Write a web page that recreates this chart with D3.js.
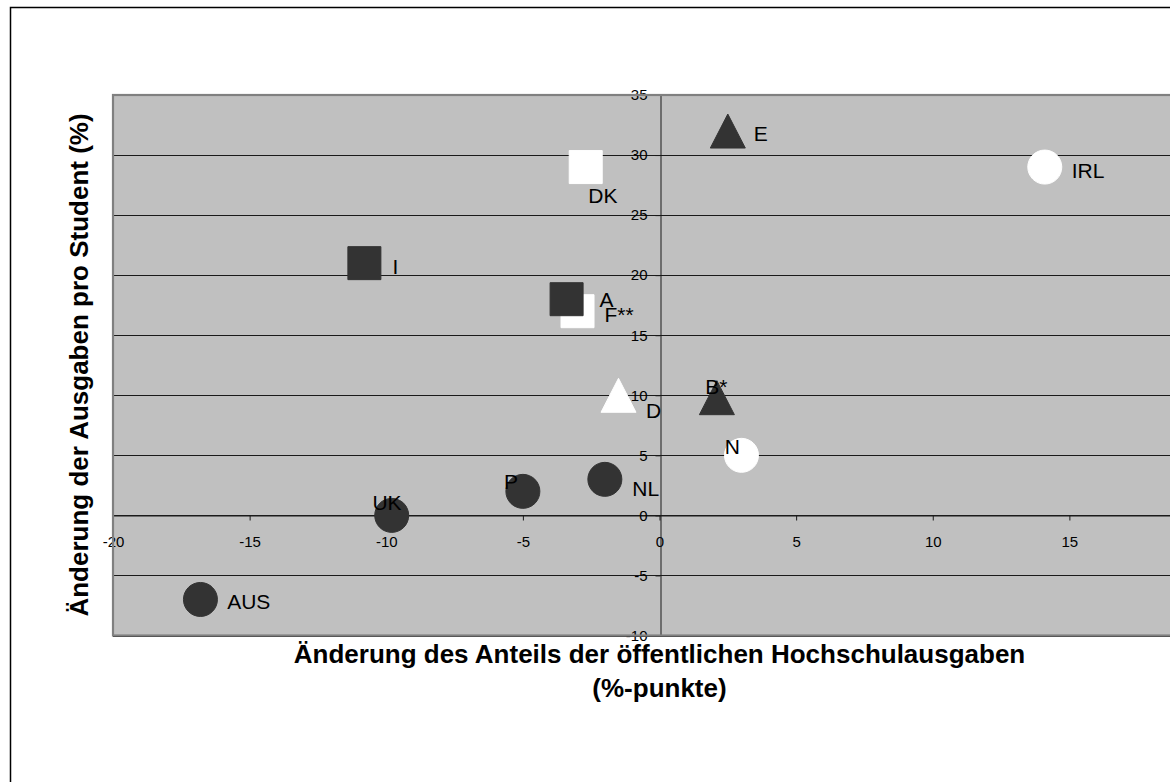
<!DOCTYPE html>
<html>
<head>
<meta charset="utf-8">
<script src="https://cdn.jsdelivr.net/npm/d3@7"></script>
<style>
  html, body { margin: 0; padding: 0; background: #ffffff; overflow: hidden; }
  svg { display: block; }
  text { font-family: Arial, "Liberation Sans", sans-serif; }
</style>
</head>
<body>
<svg id="chart" width="1170" height="782"></svg>
<script>
// ---- data ----
const labels  = ["E", "IRL", "DK", "I", "F**", "A", "D", "B*", "N", "NL", "P", "UK", "AUS"];
const xValues = [2.5, 14.1, -2.7, -10.8, -3.0, -3.4, -1.5, 2.1, 3.0, -2.0, -5.0, -9.8, -16.8];
const yValues = [32, 29, 29, 21, 17, 18, 10, 9.8, 5, 3, 2, 0, -7];
const shapes  = ["triangle", "circle", "square", "square", "square", "square", "triangle", "triangle", "circle", "circle", "circle", "circle", "circle"];
const tones   = ["dark", "light", "light", "dark", "light", "dark", "light", "dark", "light", "dark", "dark", "dark", "dark"];
const xTicks  = [-20, -15, -10, -5, 0, 5, 10, 15];
const yTicks  = [-10, -5, 0, 5, 10, 15, 20, 25, 30, 35];
const xTitleLines = ["Änderung des Anteils der öffentlichen Hochschulausgaben", "(%-punkte)"];
const yTitle = "Änderung der Ausgaben pro Student (%)";

// ---- layout / style ----
const plot = { left: 113, right: 1206, top: 95, bottom: 635.5 };
const toneColor = { dark: "#333333", light: "#ffffff" };
// label placement relative to marker centre (text start, baseline)
const labelPlacement = {
  "E":   [26, 10],  "IRL": [27, 11],  "DK": [2.6, 35.6], "I": [28, 10.4],
  "F**": [27, 10.3], "A":  [33, 7.7],  "D": [27.4, 23],   "B*": [-11.7, -4],
  "N":   [-16.7, -1], "NL": [27.4, 17], "P": [-19, -2.7],  "UK": [-19.3, -5.7],
  "AUS": [26.7, 9.3]
};

const svg = d3.select("#chart");
const x = d3.scaleLinear().domain([-20, 20]).range([plot.left, plot.right]);
const y = d3.scaleLinear().domain([-10, 35]).range([plot.bottom, plot.top]);

// outer chart frame
svg.append("rect")
  .attr("x", 10.5).attr("y", 7.5).attr("width", 1300).attr("height", 790)
  .attr("fill", "#ffffff").attr("stroke", "#000000").attr("stroke-width", 1.5);

// plot background
svg.append("rect")
  .attr("x", plot.left).attr("y", plot.top)
  .attr("width", plot.right - plot.left).attr("height", plot.bottom - plot.top)
  .attr("fill", "#c0c0c0");

// horizontal gridlines
svg.append("g").selectAll("line").data(yTicks).join("line")
  .attr("x1", plot.left).attr("x2", plot.right)
  .attr("y1", d => Math.round(y(d)) + 0.5).attr("y2", d => Math.round(y(d)) + 0.5)
  .attr("stroke", "#1a1a1a").attr("stroke-width", 1);

// axes crossing at 0
const fmt = d => String(d);
const xAxis = d3.axisBottom(x).tickValues(xTicks).tickFormat(fmt).tickSize(5).tickSizeOuter(0).tickPadding(16);
const yAxis = d3.axisLeft(y).tickValues(yTicks).tickFormat(fmt).tickSize(5).tickSizeOuter(0).tickPadding(8);

const gx = svg.append("g").attr("transform", `translate(0,${Math.round(y(0)) + 0.5})`).call(xAxis);
const gy = svg.append("g").attr("transform", `translate(${Math.round(x(0)) + 0.5},0)`).call(yAxis);
[gx, gy].forEach(g => {
  g.attr("font-size", 15).attr("font-family", "Arial, 'Liberation Sans', sans-serif");
  g.selectAll("path.domain").attr("stroke", "#1a1a1a").attr("stroke-width", 1);
  g.selectAll(".tick line").attr("stroke", "#1a1a1a").attr("stroke-width", 1);
  g.selectAll(".tick text").attr("fill", "#000").style("font-size", "15px");
});

// plot border
svg.append("rect")
  .attr("x", plot.left).attr("y", plot.top)
  .attr("width", plot.right - plot.left).attr("height", plot.bottom - plot.top)
  .attr("fill", "none").attr("stroke", "#808080").attr("stroke-width", 2.2);

// markers
const pts = labels.map((l, i) => ({ label: l, xv: xValues[i], yv: yValues[i], shape: shapes[i], tone: tones[i] }));
const symbolType = { circle: d3.symbolCircle, square: d3.symbolSquare };
const symbolArea = { circle: Math.PI * 17 * 17, square: 33 * 33 };

const mk = svg.append("g");
pts.forEach(p => {
  const cx = x(p.xv), cy = y(p.yv);
  const col = toneColor[p.tone];
  if (p.shape === "triangle") {
    const w = 35, h = 34;
    mk.append("path")
      .attr("d", `M${cx},${cy - h / 2}L${cx + w / 2},${cy + h / 2}L${cx - w / 2},${cy + h / 2}Z`)
      .attr("fill", col).attr("stroke", col).attr("stroke-width", 1);
  } else {
    mk.append("path")
      .attr("transform", `translate(${cx},${cy})`)
      .attr("d", d3.symbol().type(symbolType[p.shape]).size(symbolArea[p.shape])())
      .attr("fill", col).attr("stroke", col).attr("stroke-width", 1);
  }
});

// labels
svg.append("g").selectAll("text").data(pts).join("text")
  .attr("x", d => x(d.xv) + labelPlacement[d.label][0])
  .attr("y", d => y(d.yv) + labelPlacement[d.label][1])
  .attr("fill", "#000").style("font-size", "21px")
  .text(d => d.label);

// axis titles
const xMid = (plot.left + plot.right) / 2;
svg.append("g").selectAll("text").data(xTitleLines).join("text")
  .attr("x", xMid).attr("y", (d, i) => 663 + i * 34)
  .attr("text-anchor", "middle").style("font-size", "26px").style("font-weight", "bold")
  .attr("fill", "#000").text(d => d);

svg.append("text")
  .attr("transform", `translate(88,${365}) rotate(-90)`)
  .attr("text-anchor", "middle").style("font-size", "26px").style("font-weight", "bold")
  .attr("fill", "#000").text(yTitle);
</script>
</body>
</html>
